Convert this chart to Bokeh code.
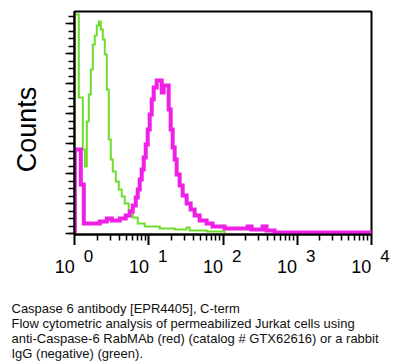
import math
from bokeh.plotting import figure
from bokeh.layouts import column, row
from bokeh.models import (Range1d, FixedTicker, Label, LabelSet, ColumnDataSource,
                          CustomJSTickFormatter, SingleIntervalTicker)
from bokeh.core.properties import value
from bokeh.embed import file_html
from bokeh.resources import INLINE

# ---- data (fluorescence intensity bin edges, counts) ----
neg_edges = [1.0, 1.132, 1.282, 1.364, 1.451, 1.544, 1.643, 1.748, 1.860, 1.979, 2.106,
             2.241, 2.385, 2.537, 2.700, 2.872, 3.056, 3.252, 3.569, 3.917, 4.299, 4.719,
             5.343, 6.049, 7.066, 8.779, 13.99, 22.27, 32.31, 35.47, 60.12, 105.1]
neg_counts = [219, 136, 84, 67, 112, 139, 164, 189, 198, 208, 212, 204, 194, 179, 144, 94,
              74, 62, 52, 44, 37, 30, 23, 16, 10, 7, 5, 4, 6, 3, 2]

pos_edges = [1.0, 1.205, 1.322, 2.173, 2.700, 3.153, 4.041, 4.868, 5.512, 6.049, 6.638,
             7.066, 7.516, 7.998, 8.511, 9.056, 9.634, 10.25, 10.91, 11.60, 12.74, 14.88,
             15.83, 18.49, 19.67, 20.94, 22.27, 23.70, 26.01, 28.55, 32.31, 36.59, 41.43,
             48.37, 60.12, 72.41, 105.1, 214.6, 242.9, 341.8, 386.9, 496.1, 10000]
pos_counts = [84, 49, 10, 12, 15, 13, 15, 18, 22, 28, 36, 44, 54, 64, 76, 89, 104, 119, 134,
              146, 153, 141, 148, 124, 104, 86, 74, 59, 48, 38, 30, 24, 18, 13, 10, 7, 5, 7,
              4, 7, 3, 1]

tick_values = [1, 10, 100, 1000, 10000]
tick_bases = ["10", "10", "10", "10", "10"]
tick_exponents = ["0", "1", "2", "3", "4"]

y_label = "Counts"
caption_lines = [
    "Caspase 6 antibody [EPR4405], C-term",
    "Flow cytometric analysis of permeabilized Jurkat cells using",
    "anti-Caspase-6 RabMAb (red) (catalog # GTX62616) or a rabbit",
    "IgG (negative) (green).",
]

GREEN = "#6fdc2e"
MAGENTA = "#f01fe6"
FONT = "Liberation Sans"

# ---- layout geometry (pixels) ----
W = 398
LEFT_W = 40            # strip holding the "Counts" label
TOP_H = 245            # plot row height
BOTTOM_H = 117         # tick labels + caption strip
ML, MR, MT, MB = 34, 27, 11, 11   # borders of the plot figure
X_START, X_END = 0.99, 10100


def step_path(edges, counts):
    xs, ys = [edges[0]], [0]
    for i, c in enumerate(counts):
        xs += [edges[i], edges[i + 1]]
        ys += [c, c]
    xs.append(edges[-1])
    ys.append(0)
    return xs, ys


def blank(fig):
    fig.grid.visible = False
    fig.outline_line_color = None
    fig.background_fill_color = "white"
    fig.border_fill_color = "white"
    return fig


# ---- main plot ----
p = figure(width=W - LEFT_W, height=TOP_H, x_axis_type="log", title=None,
           x_range=Range1d(X_START, X_END), y_range=Range1d(-1, 222),
           output_backend="svg", toolbar_location=None,
           min_border_left=ML, min_border_right=MR, min_border_top=MT,
           min_border_bottom=MB)
p.grid.visible = False
p.background_fill_color = "white"
p.border_fill_color = "white"
p.outline_line_color = "black"
p.outline_line_width = 2

gx, gy = step_path(neg_edges, neg_counts)
mx, my = step_path(pos_edges, pos_counts)
p.line(gx, gy, line_color=GREEN, line_width=2, line_join="miter")
p.line(mx, my, line_color=MAGENTA, line_width=4, line_join="miter")

minor = [t * m for t in tick_values[:-1] for m in range(2, 10)]
xa = p.xaxis[0]
xa.ticker = FixedTicker(ticks=tick_values, minor_ticks=minor)
xa.formatter = CustomJSTickFormatter(code="return ''")
xa.major_label_text_font_size = "0px"
xa.major_label_standoff = 0
xa.axis_line_color = "black"
xa.axis_line_width = 2
xa.major_tick_line_color = "black"
xa.major_tick_line_width = 2
xa.major_tick_out = 11
xa.major_tick_in = 0
xa.minor_tick_line_color = "black"
xa.minor_tick_line_width = 1.5
xa.minor_tick_out = 6
xa.minor_tick_in = 0

ya = p.yaxis[0]
ya.ticker = SingleIntervalTicker(interval=30, num_minor_ticks=4)
ya.formatter = CustomJSTickFormatter(code="return ''")
ya.major_label_text_font_size = "0px"
ya.major_label_standoff = 0
ya.axis_line_color = "black"
ya.axis_line_width = 2
ya.major_tick_line_color = "black"
ya.major_tick_line_width = 1.5
ya.major_tick_out = 9
ya.major_tick_in = 0
ya.minor_tick_line_color = "black"
ya.minor_tick_line_width = 1.5
ya.minor_tick_out = 6
ya.minor_tick_in = 0

# ---- left strip with the y axis title ----
left = blank(figure(width=LEFT_W, height=TOP_H, title=None, output_backend="svg",
                    toolbar_location=None, x_axis_location=None, y_axis_location=None,
                    min_border=0, x_range=Range1d(0, 1), y_range=Range1d(0, 1)))
left.add_layout(Label(x=26, y=105, x_units="screen", y_units="screen", text=y_label,
                      angle=90, angle_units="deg", text_align="center",
                      text_baseline="alphabetic", text_font=FONT,
                      text_font_size="27px", text_color="black"))

# ---- bottom strip: tick labels on the same log scale, then the caption ----
px_per_dec = (W - LEFT_W - ML - MR) / (math.log10(X_END) - math.log10(X_START))
b_start = math.log10(X_START) - (LEFT_W + ML) / px_per_dec
b_end = b_start + W / px_per_dec
bottom = blank(figure(width=W, height=BOTTOM_H, title=None, x_axis_type="log",
                      output_backend="svg", toolbar_location=None,
                      x_axis_location=None, y_axis_location=None, min_border=0,
                      x_range=Range1d(10 ** b_start, 10 ** b_end),
                      y_range=Range1d(0, BOTTOM_H)))

tick_src = ColumnDataSource(dict(x=tick_values, base=tick_bases, exp=tick_exponents))
bottom.add_layout(LabelSet(x="x", y=89.5, y_units="screen", text="base", source=tick_src,
                           x_offset=0, text_align="right", text_baseline="alphabetic",
                           text_font=value(FONT), text_font_size=value("18px"),
                           text_color="black"))
bottom.add_layout(LabelSet(x="x", y=101, y_units="screen", text="exp", source=tick_src,
                           x_offset=9, text_align="left", text_baseline="alphabetic",
                           text_font=value(FONT), text_font_size=value("17px"),
                           text_color="black"))

for i, line in enumerate(caption_lines):
    bottom.add_layout(Label(x=11, y=54.5 - 15 * i, x_units="screen", y_units="screen",
                            text=line, text_align="left", text_baseline="alphabetic",
                            text_font=FONT, text_font_size="13px", text_color="#111111"))

layout = column(row(left, p, spacing=0), bottom, spacing=0)
open("out.html", "w").write(file_html(layout, INLINE))
